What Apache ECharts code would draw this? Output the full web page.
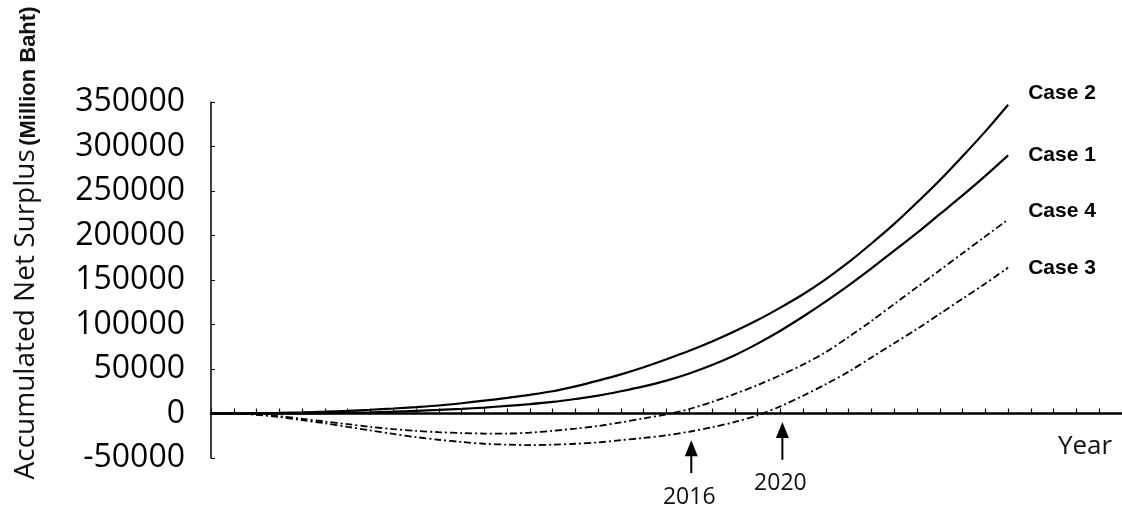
<!DOCTYPE html>
<html>
<head>
<meta charset="utf-8">
<script src="https://cdn.jsdelivr.net/npm/echarts@6/dist/echarts.min.js"></script>
<style>
html,body{margin:0;padding:0;background:#fff;}
#c{width:1122px;height:514px;}
</style>
</head>
<body>
<div id="c"></div>
<script>
// ---- data ----
const years = [1995,1996,1997,1998,1999,2000,2001,2002,2003,2004,2005,2006,2007,2008,2009,2010,2011,2012,2013,2014,2015,2016,2017,2018,2019,2020,2021,2022,2023,2024,2025,2026,2027,2028,2029,2030];
const case1 = [0,0,0,0,0,300,700,1200,2000,3000,4000,5200,6700,8500,10500,13000,16300,20000,25000,30500,37000,45000,54500,65500,78500,93000,109000,126000,144000,163000,183000,203000,224000,245000,267000,290000];
const case2 = [0,0,200,600,1200,2000,3000,4200,5600,7200,9000,11500,14500,17500,21000,25000,30500,37000,44000,52000,61000,70500,81000,92500,105000,119000,134000,151000,170000,191000,213000,237000,262000,289000,317000,347000];
const case3 = [0,0,-1500,-4000,-7500,-11000,-15000,-19000,-23000,-26500,-29500,-32000,-34000,-35000,-35500,-35000,-34000,-32500,-30000,-27500,-24500,-20500,-15500,-9500,-2000,8000,20000,33000,47000,63000,79000,95000,112000,129000,146000,164000];
const case4 = [0,0,-1000,-3000,-6000,-9000,-12000,-15000,-17500,-19500,-21000,-22000,-22500,-22500,-21500,-19500,-17000,-14000,-10000,-5500,-1000,5000,13000,22000,32000,43000,55000,69000,86000,104000,123000,142000,161000,180000,199000,218000];
const seriesNames = ['Case 2','Case 1','Case 4','Case 3'];
const arrowYears = [2016, 2020];
const arrowTip = [-30000, -9500];
const arrowTail = [-67000, -52000];
const xName = 'Year';
const yNameMain = 'Accumulated Net Surplus';
const yNameUnit = '(Million Baht)';

const pairs = arr => years.map((y, i) => [y, arr[i]]);

const chart = echarts.init(document.getElementById('c'), null, {renderer: 'canvas'});

function lineSeries(name, data, dashed, dy) {
  return {
    name: name,
    type: 'line',
    data: pairs(data),
    showSymbol: false,
    smooth: 0.3,
    clip: false,
    lineStyle: dashed
      ? {color: '#000', width: 1.8, type: [7, 3, 2, 3]}
      : {color: '#000', width: 2.2},
    endLabel: {
      show: true,
      formatter: '{a}',
      distance: 20,
      offset: [0, dy],
      color: '#000',
      fontFamily: 'Liberation Sans',
      fontWeight: 'bold',
      fontSize: 21
    },
    z: 3
  };
}

const option = {
  animation: false,
  backgroundColor: '#fff',
  grid: {left: 211, right: 0, top: 102, bottom: 56, containLabel: false},
  xAxis: {
    type: 'value',
    min: 1995,
    max: 2035,
    interval: 1,
    axisLine: {onZero: true, lineStyle: {color: '#000', width: 2.5}},
    axisTick: {show: true, inside: true, length: 5, lineStyle: {color: '#000', width: 1.2}},
    axisLabel: {show: false},
    splitLine: {show: false}
  },
  yAxis: {
    type: 'value',
    min: -50000,
    max: 350000,
    interval: 50000,
    axisLine: {show: true, lineStyle: {color: '#000', width: 1.5}},
    axisTick: {show: true, inside: true, length: 4, lineStyle: {color: '#000'}},
    axisLabel: {
      margin: 26,
      color: '#000',
      fontFamily: 'Open Sans',
      fontSize: 32,
      formatter: v => String(v)
    },
    splitLine: {show: false}
  },
  series: [
    lineSeries(seriesNames[0], case2, false, -11),
    lineSeries(seriesNames[1], case1, false, 0),
    lineSeries(seriesNames[2], case4, true, -8),
    lineSeries(seriesNames[3], case3, true, 1)
  ]
};

chart.setOption(option);

const g = [];
g.push({
  type: 'text',
  x: 26, y: 243,
  rotation: Math.PI / 2,
  style: {
    text: '{a|' + yNameMain + '} {b|' + yNameUnit + '}',
    textAlign: 'center',
    textVerticalAlign: 'middle',
    fill: '#111',
    rich: {
      a: {fontFamily: 'Open Sans', fontSize: 28, fill: '#111', verticalAlign: 'bottom'},
      b: {fontFamily: 'Liberation Sans', fontWeight: 'bold', fontSize: 22, fill: '#111', verticalAlign: 'bottom'}
    }
  }
});
g.push({
  type: 'text',
  x: 1085, y: 447,
  style: {
    text: xName,
    textAlign: 'center',
    textVerticalAlign: 'middle',
    fontFamily: 'Open Sans',
    fontSize: 26,
    fill: '#111'
  }
});
arrowYears.forEach((yr, i) => {
  const tip = chart.convertToPixel({gridIndex: 0}, [yr, arrowTip[i]]);
  const tail = chart.convertToPixel({gridIndex: 0}, [yr, arrowTail[i]]);
  g.push({type: 'line', shape: {x1: tail[0] + 2, y1: tail[1], x2: tip[0] + 2, y2: tip[1] + 12},
          style: {stroke: '#000', lineWidth: 2}});
  g.push({type: 'polygon', shape: {points: [[tip[0] + 2, tip[1]], [tip[0] - 4.5, tip[1] + 16], [tip[0] + 8.5, tip[1] + 16]]},
          style: {fill: '#000'}});
  g.push({type: 'text', x: tail[0], y: tail[1] + 24,
          style: {text: String(yr), textAlign: 'center', textVerticalAlign: 'middle',
                  fontFamily: 'Open Sans', fontSize: 23, fill: '#111'}});
});
chart.setOption({graphic: g});
</script>
</body>
</html>
